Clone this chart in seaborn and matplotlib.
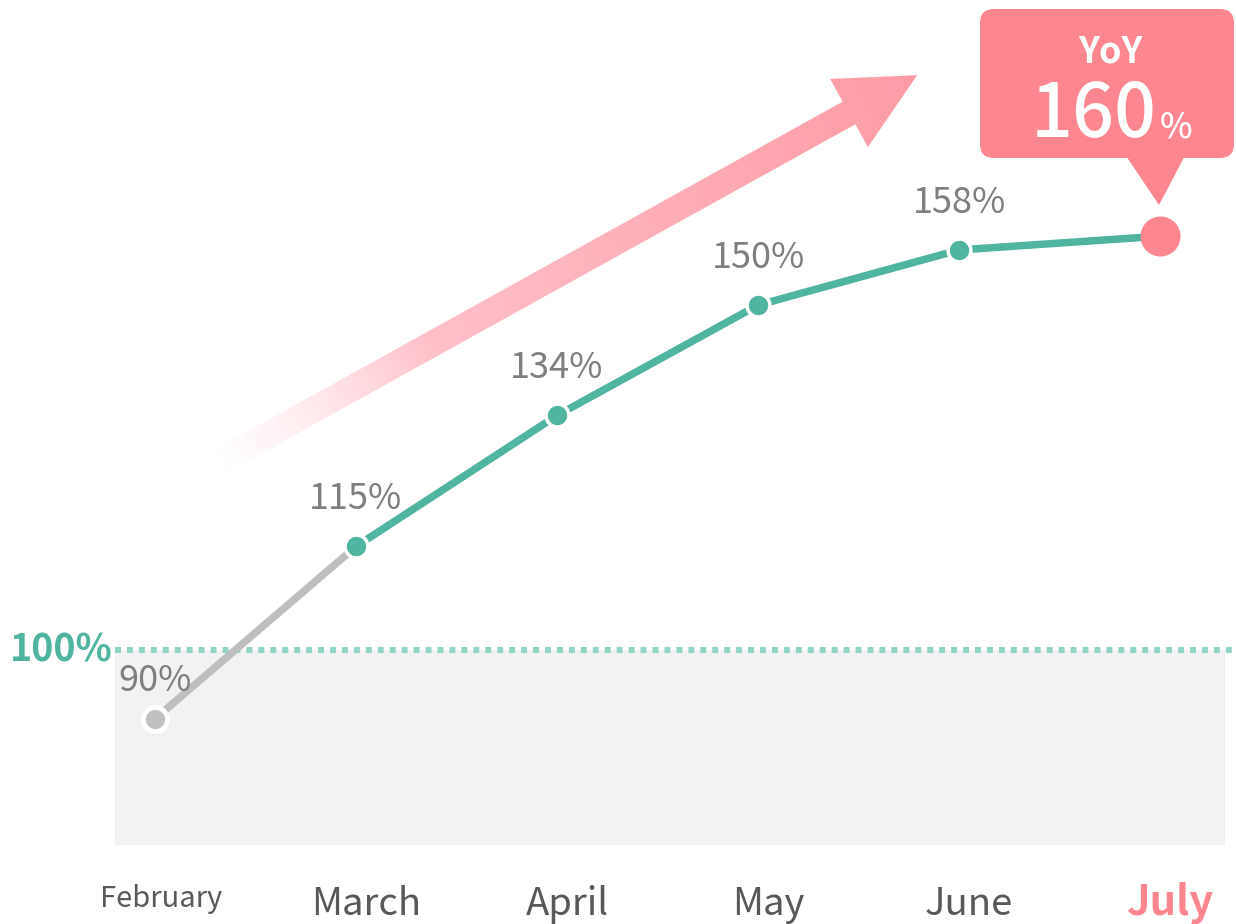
import numpy as np
import pandas as pd
import seaborn as sns
import matplotlib.pyplot as plt
from matplotlib.patches import Polygon, FancyBboxPatch
from matplotlib.transforms import Affine2D, blended_transform_factory

# data
months = ["February", "March", "April", "May", "June", "July"]
yoy = [90, 115, 134, 150, 158, 160]
baseline = 100

W, H = 1236, 924
teal = "#4FB5A0"
teal_light = "#8FD4C5"
grey_line = "#BEBEBE"
pink = "#FD8691"
text_grey = "#7F7F7F"
month_grey = "#595959"

sns.set_theme(style="white")
plt.rcParams['font.family'] = ['Noto Sans CJK JP', 'DejaVu Sans']

df = pd.DataFrame({"month": months, "yoy": yoy, "idx": range(len(months))})

fig = plt.figure(figsize=(W / 100, H / 100), dpi=100)
ax = fig.add_axes([0, 0, 1, 1])
ax.set_axis_off()
pix = Affine2D().scale(1, -1).translate(0, H)   # pixel coords, y downwards
xdata_yaxes = blended_transform_factory(ax.transData, ax.transAxes)
xaxes_ydata = blended_transform_factory(ax.transAxes, ax.transData)

# shaded zone under 100% and dotted reference line
ax.axhspan(71.7, baseline, xmin=115 / W, xmax=1225 / W, color="#F2F2F2", lw=0, zorder=0)
ax.axhline(baseline, xmin=115 / W, xmax=1, color=teal_light, lw=4.3,
           linestyle=(0, (1, 1)), dash_capstyle="butt", zorder=1)
ax.text(113 / W, baseline, f"{baseline}%", transform=xaxes_ydata, ha="right", va="center",
        fontsize=27, fontweight="bold", color=teal)

# gradient arrow
tail = np.array([212.0, 466.0])
base = np.array([849.0, 113.0])
u = (base - tail) / np.linalg.norm(base - tail)
n = np.array([-u[1], u[0]])
tip = base + u * 78
shaft, head = 13, 39
arrow_px = [tail + n * shaft, base + n * shaft, base + n * head, tip,
            base - n * head, base - n * shaft, tail - n * shaft]
arrow_ax = [(p[0] / W, 1 - p[1] / H) for p in arrow_px]
clip = Polygon(arrow_ax, closed=True, transform=ax.transAxes, facecolor="none", edgecolor="none")
ax.add_patch(clip)

x0, x1, y0, y1 = 180, 930, 60, 500
gx, gy = np.meshgrid(np.arange(x0, x1), np.arange(y0, y1))
L = np.linalg.norm(tip - tail)
t = ((gx - tail[0]) * u[0] + (gy - tail[1]) * u[1]) / L
t = np.clip(t, 0, 1)
img = np.zeros(gx.shape + (4,))
c_lo = np.array([255, 200, 209]) / 255
c_hi = np.array([255, 155, 166]) / 255
mix = np.clip((t - 0.15) / 0.85, 0, 1)[..., None]
img[..., :3] = c_lo * (1 - mix) + c_hi * mix
img[..., 3] = np.clip((t - 0.01) / 0.3, 0, 1) ** 1.2
im = ax.imshow(img, extent=[x0 / W, x1 / W, 1 - y1 / H, 1 - y0 / H], transform=ax.transAxes,
               origin="upper", aspect="auto", interpolation="bilinear", zorder=2)
im.set_clip_path(clip)

# line segments
sns.lineplot(data=df.iloc[:2], x="idx", y="yoy", color=grey_line, lw=5.4, ax=ax, zorder=3)
sns.lineplot(data=df.iloc[1:], x="idx", y="yoy", color=teal, lw=5.4, ax=ax, zorder=3)

# markers
sns.scatterplot(data=df.iloc[[0]], x="idx", y="yoy", s=300, color="#C0C0C0",
                edgecolor="white", linewidth=3.5, ax=ax, zorder=4)
sns.scatterplot(data=df.iloc[1:5], x="idx", y="yoy", s=270, color=teal,
                edgecolor="white", linewidth=2.5, ax=ax, zorder=4)
sns.scatterplot(data=df.iloc[[5]], x="idx", y="yoy", s=830, color=pink,
                linewidth=0, ax=ax, zorder=4)

# value labels
for i, v in enumerate(yoy[:-1]):
    dy = 27 if i == 0 else 34
    ax.annotate(f"{v}%", (i, v), xytext=(0, dy), textcoords="offset points",
                ha="center", va="center", fontsize=26, color=text_grey, zorder=5)

# month labels
for i, m in enumerate(months):
    if m == "July":
        ax.text(i + 0.05, 1 - 915 / H, m, transform=xdata_yaxes, ha="center", va="baseline",
                fontsize=30, fontweight="bold", color=pink)
    elif m == "February":
        ax.text(i + 0.03, 1 - 907 / H, m, transform=xdata_yaxes, ha="center", va="baseline",
                fontsize=21, color=month_grey)
    else:
        ax.text(i + 0.05, 1 - 915 / H, m, transform=xdata_yaxes, ha="center", va="baseline",
                fontsize=27.5, color=month_grey)

# YoY callout
ax.add_patch(FancyBboxPatch((980, 9), 254, 149, boxstyle="round,pad=0,rounding_size=14",
                            transform=pix, facecolor=pink, edgecolor="none", zorder=5))
ax.add_patch(Polygon([(1122, 150), (1188, 150), (1159, 205)], closed=True, transform=pix,
                     facecolor=pink, edgecolor="none", zorder=5))
ax.text(1110, 52, "YoY", transform=pix, ha="center", va="center", fontsize=26,
        fontweight="bold", color="white", zorder=6)
ax.text(1157, 137, f"{yoy[-1]}", transform=pix, ha="right", va="baseline", fontsize=53,
        fontweight="medium", color="white", zorder=6)
ax.text(1160, 137, "%", transform=pix, ha="left", va="baseline", fontsize=25,
        fontweight="medium", color="white", zorder=6)

ax.set_xlim(-0.771, 5.378)
ax.set_ylim(60.25, 194.25)
ax.set_xlabel("")
ax.set_ylabel("")

fig.savefig("out.png", dpi=100)
